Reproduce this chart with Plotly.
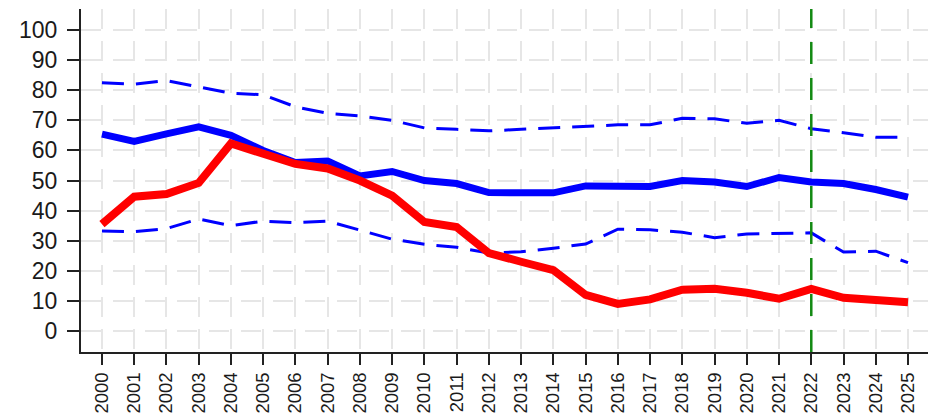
import plotly.graph_objects as go

years = list(range(2000, 2026))

# central estimate (thick blue)
blue_mid = [65.4, 63.0, 65.5, 67.8, 65.0, 60.0, 56.0, 56.5, 51.5, 53.0,
            50.0, 49.0, 46.0, 45.8, 45.9, 48.2, 48.0, 48.0, 50.0, 49.5,
            48.0, 51.0, 49.5, 49.0, 47.0, 44.5]
# upper and lower bounds (dashed blue)
blue_upper = [82.5, 82.0, 83.2, 81.0, 79.0, 78.5, 74.5, 72.3, 71.5, 70.0,
              67.5, 67.0, 66.5, 67.0, 67.5, 68.0, 68.5, 68.5, 70.7, 70.5,
              69.0, 70.0, 67.2, 65.9, 64.4, 64.4]
blue_lower = [33.2, 33.0, 34.0, 37.2, 35.0, 36.5, 36.0, 36.5, 33.5, 30.5,
              28.8, 27.8, 25.9, 26.3, 27.5, 28.9, 33.8, 33.6, 32.8, 31.0,
              32.2, 32.5, 32.6, 26.2, 26.5, 22.7]
# observed series (thick red)
red = [35.5, 44.6, 45.5, 49.2, 62.3, 59.0, 55.5, 54.0, 50.0, 45.0,
       36.2, 34.5, 25.9, 23.0, 20.2, 12.0, 9.0, 10.5, 13.7, 14.0,
       12.7, 10.7, 14.0, 11.0, 10.0, 9.5]

marker_year = 2022
y_ticks = list(range(0, 101, 10))

FONT = "Liberation Sans, Arial, sans-serif"
DASH = "22px,12px"

fig = go.Figure()
fig.add_trace(go.Scatter(x=years, y=blue_upper, mode="lines",
                         line=dict(color="#0000ff", width=3, dash=DASH)))
fig.add_trace(go.Scatter(x=years, y=blue_lower, mode="lines",
                         line=dict(color="#0000ff", width=3, dash=DASH)))
fig.add_trace(go.Scatter(x=years, y=blue_mid, mode="lines",
                         line=dict(color="#0000ff", width=7)))
fig.add_trace(go.Scatter(x=years, y=red, mode="lines",
                         line=dict(color="#ff0000", width=8)))

fig.add_shape(type="line", xref="x", yref="paper",
              x0=marker_year, x1=marker_year, y0=0, y1=1,
              line=dict(color="#138a13", width=2.5, dash="22px,14px"),
              layer="above")

fig.update_layout(
    width=936, height=415,
    margin=dict(l=81, r=8, t=9, b=63, autoexpand=False),
    paper_bgcolor="white", plot_bgcolor="white",
    showlegend=False,
    font=dict(family=FONT, color="#1a1a1a"),
)
fig.update_xaxes(
    range=[1999.35, 2025.62], automargin=False,
    tickmode="array", tickvals=years, ticktext=[str(y) for y in years],
    tickangle=-90, tickfont=dict(size=18.5),
    ticks="outside", ticklen=11, tickwidth=2, tickcolor="#222",
    showline=True, linecolor="#222", linewidth=2,
    showgrid=True, gridcolor="#e6e6e6", gridwidth=2, griddash="20px,12px",
    zeroline=False, ticklabelstandoff=0,
)
fig.update_yaxes(
    range=[-7, 107], automargin=False,
    tickmode="array", tickvals=y_ticks,
    tickfont=dict(size=23),
    ticks="outside", ticklen=12, tickwidth=2, tickcolor="#222",
    showline=True, linecolor="#222", linewidth=2,
    showgrid=True, gridcolor="#e6e6e6", gridwidth=2, griddash="20px,12px",
    zeroline=False, ticklabelstandoff=5,
)

fig.write_html("out.html")
